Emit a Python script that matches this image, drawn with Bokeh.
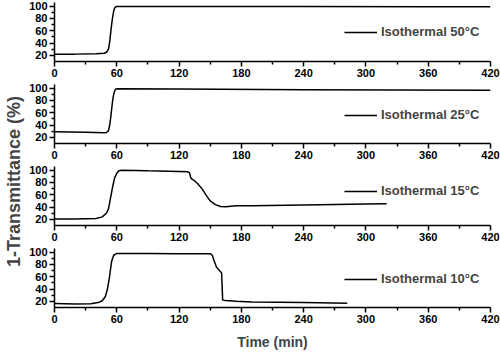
from math import pi
from bokeh.plotting import figure
from bokeh.layouts import row, column
from bokeh.models import Range1d, FixedTicker, Legend, LegendItem, Label
from bokeh.embed import file_html
from bokeh.resources import INLINE

FONT = "Liberation Sans"

# ---- data (time in min, 1-Transmittance in %) ----
t50 = [0, 20, 40, 48, 50, 52, 53, 54, 55, 56, 57, 58, 59, 60, 120, 240, 360, 420]
v50 = [22, 22, 22.5, 23.5, 25, 30, 40, 55, 70, 82, 92, 97, 99, 99.5, 99.5, 99.3, 99, 99]

t25 = [0, 30, 48, 50, 52, 53, 54, 55, 56, 57, 58, 59, 61, 120, 240, 420]
v25 = [29, 28.5, 27.5, 28, 31, 38, 50, 65, 80, 90, 96, 98.5, 99, 98.5, 97.5, 96.5]

t15 = [0, 20, 40, 46, 50, 52, 54, 56, 58, 60, 62, 65, 90, 120, 128, 130, 131, 132, 134,
       138, 142, 147, 150, 155, 160, 165, 175, 190, 240, 300, 320]
v15 = [20.5, 20.5, 21.5, 24, 30, 37, 55, 73, 88, 95, 99, 100, 99, 98, 97.5, 96, 89, 86, 84,
       78, 70, 57, 50, 44, 41, 40.5, 42, 42, 43.5, 45, 45.5]

t10 = [0, 20, 35, 42, 46, 49, 51, 53, 55, 57, 60, 90, 120, 150, 152, 154, 156, 159, 161,
       162, 165, 175, 190, 240, 282]
v10 = [16.5, 15.5, 16, 18, 21, 28, 40, 60, 85, 95, 98, 98, 97.5, 97.5, 95, 85, 76, 70, 66,
       22, 21.5, 20, 19, 18, 17]

names = ["Isothermal 50°C", "Isothermal 25°C", "Isothermal 15°C", "Isothermal 10°C"]
times = [t50, t25, t15, t10]
values = [v50, v25, v15, v10]
legend_y = [22, 21, 27, 21]

x_ticks = [0, 60, 120, 180, 240, 300, 360, 420]
x_minor = [30, 90, 150, 210, 270, 330, 390]
y_ticks = [20, 40, 60, 80, 100]
y_minor = [30, 50, 70, 90]

W_TITLE = 26
W_PANEL = 500 - W_TITLE
H_PANEL = 82
H_LAST = 108

panels = []
for i in range(4):
    last = i == 3
    p = figure(width=W_PANEL, height=H_LAST if last else H_PANEL,
               output_backend="svg", toolbar_location=None,
               x_range=Range1d(0, 420), y_range=Range1d(10, 106),
               min_border_left=26, min_border_right=10, min_border_top=2,
               min_border_bottom=(H_LAST - 61) if last else 21)
    p.outline_line_color = None
    p.xgrid.visible = False
    p.ygrid.visible = False
    r = p.line(times[i], values[i], line_color="black", line_width=1.5)

    for ax in (p.xaxis[0], p.yaxis[0]):
        ax.axis_line_width = 1.5
        ax.major_tick_line_width = 1.5
        ax.minor_tick_line_width = 1.5
        ax.major_tick_in = 0
        ax.major_tick_out = 5
        ax.minor_tick_in = 0
        ax.minor_tick_out = 3
        ax.major_label_standoff = 2
        ax.major_label_text_font = FONT
        ax.major_label_text_font_style = "bold"
        ax.major_label_text_font_size = "11px"
        ax.major_label_text_color = "black"
    p.xaxis[0].ticker = FixedTicker(ticks=x_ticks, minor_ticks=x_minor)
    p.yaxis[0].ticker = FixedTicker(ticks=y_ticks, minor_ticks=y_minor)
    if last:
        p.xaxis[0].axis_label = "Time (min)"
        p.xaxis[0].axis_label_text_font = FONT
        p.xaxis[0].axis_label_text_font_style = "bold"
        p.xaxis[0].axis_label_text_font_size = "14px"
        p.xaxis[0].axis_label_standoff = 8

    leg = Legend(items=[LegendItem(label=names[i], renderers=[r])],
                 location=(290, legend_y[i]), padding=0, margin=0, spacing=0,
                 label_height=14, glyph_height=14, glyph_width=33, label_standoff=4,
                 background_fill_alpha=0, border_line_alpha=0,
                 label_text_font=FONT, label_text_font_style="bold",
                 label_text_font_size="13px")
    p.add_layout(leg, "center")
    panels.append(p)

total_h = H_PANEL * 3 + H_LAST
tf = figure(width=W_TITLE, height=total_h, output_backend="svg", toolbar_location=None,
            x_range=Range1d(0, 1), y_range=Range1d(0, 1),
            min_border=0, min_border_left=0, min_border_right=0,
            min_border_top=0, min_border_bottom=0)
tf.outline_line_color = None
tf.axis.visible = False
tf.xgrid.visible = False
tf.ygrid.visible = False
tf.add_layout(Label(x=0.5, y=1 - 181 / total_h, text="1-Transmittance (%)", angle=pi / 2,
                    text_font=FONT, text_font_style="bold", text_font_size="18px",
                    text_align="center", text_baseline="middle"))

layout = row(tf, column(*panels, spacing=0), spacing=0)

open("out.html", "w").write(file_html(layout, INLINE))
